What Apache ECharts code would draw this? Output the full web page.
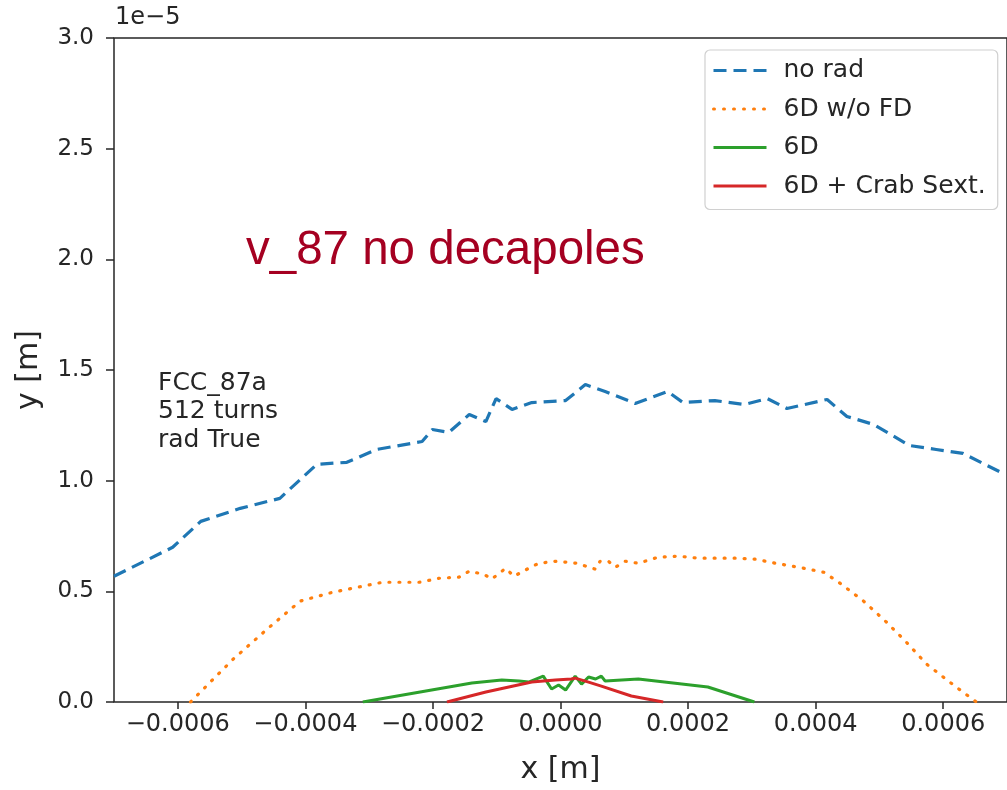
<!DOCTYPE html>
<html>
<head>
    <meta charset="utf-8">
    <title>FCC_87a DA</title>
    <script src="https://cdn.jsdelivr.net/npm/echarts@6/dist/echarts.min.js"></script>
    <style>
        html, body { margin: 0; padding: 0; background: #fff; }
        #main { width: 1007px; height: 790px; }
    </style>
</head>
<body>
<div id="main"></div>
<script type="text/javascript">
    // x in metres, y in units of 1e-5 m (as on the axis)
    var noRadX = [-0.00070, -0.000608, -0.000564, -0.000502, -0.000440, -0.000382, -0.000335, -0.000288, -0.000217, -0.000201,
        -0.000175, -0.000143, -0.000117, -0.000101, -0.000076, -0.000045, 0.000008, 0.000039, 0.000070, 0.000117,
        0.000168, 0.000192, 0.000242, 0.000288, 0.000324, 0.000355, 0.000418, 0.000449, 0.000491, 0.000547,
        0.000589, 0.000631, 0.000691];
    var noRadY = [0.568, 0.699, 0.816, 0.875, 0.920, 1.074, 1.083, 1.141, 1.177, 1.231,
        1.218, 1.299, 1.267, 1.371, 1.322, 1.353, 1.362, 1.434, 1.403, 1.349,
        1.403, 1.353, 1.362, 1.344, 1.371, 1.326, 1.367, 1.290, 1.254, 1.159,
        1.141, 1.123, 1.037];

    var noFdX = [-0.000580, -0.000549, -0.000513, -0.000460, -0.000408, -0.000357, -0.000279, -0.000221, -0.000190, -0.000159,
        -0.000143, -0.000120, -0.000108, -0.000086, -0.000073, -0.000050, -0.000034, -0.000006, 0.000025, 0.000055,
        0.000062, 0.000075, 0.000086, 0.000101, 0.000122, 0.000153, 0.000184, 0.000215, 0.000246, 0.000274,
        0.000306, 0.000337, 0.000382, 0.000413, 0.000438, 0.000475, 0.000511, 0.000542, 0.000574, 0.000620,
        0.000652];
    var noFdY = [0, 0.09, 0.194, 0.329, 0.456, 0.496, 0.541, 0.541, 0.559, 0.564,
        0.591, 0.577, 0.555, 0.604, 0.568, 0.604, 0.627, 0.636, 0.627, 0.600,
        0.636, 0.636, 0.609, 0.636, 0.627, 0.654, 0.659, 0.650, 0.650, 0.650,
        0.645, 0.627, 0.604, 0.586, 0.537, 0.456, 0.361, 0.271, 0.171, 0.068,
        0];

    var sixDX = [-0.000310, -0.000139, -0.000092, -0.000065, -0.000050, -0.000027, -0.000014, -0.000003, 0.000008, 0.000023,
        0.000033, 0.000044, 0.000055, 0.000064, 0.000070, 0.000122, 0.000231, 0.000304];
    var sixDY = [0, 0.086, 0.099, 0.095, 0.090, 0.117, 0.059, 0.077, 0.054, 0.117,
        0.081, 0.113, 0.104, 0.117, 0.095, 0.104, 0.068, 0];

    var crabX = [-0.000178, -0.000117, -0.000045, -0.000008, 0.000017, 0.000023, 0.000044, 0.000064, 0.000111, 0.000161];
    var crabY = [0, 0.045, 0.090, 0.099, 0.104, 0.108, 0.090, 0.072, 0.027, 0];

    var xTicks = [-0.0006, -0.0004, -0.0002, 0, 0.0002, 0.0004, 0.0006];
    var seriesNames = ['no rad', '6D w/o FD', '6D', '6D + Crab Sext.'];

    function pairs(xs, ys) {
        return xs.map(function (x, i) { return [x, ys[i]]; });
    }

    var font = 'DejaVu Sans';
    var ink = '#262626';

    var chart = echarts.init(document.getElementById('main'));
    chart.setOption({
        animation: false,
        backgroundColor: '#fff',
        grid: {
            left: 114, top: 38, width: 897, height: 665,
            show: true, borderColor: ink, borderWidth: 1.5
        },
        legend: {
            orient: 'vertical',
            left: 705, top: 50,
            padding: [8, 12, 11, 7],
            itemWidth: 53, itemHeight: 25, itemGap: 13.5,
            borderColor: '#d0d0d0', borderWidth: 1.2, borderRadius: 5,
            backgroundColor: 'rgba(255,255,255,0.85)',
            data: seriesNames,
            itemStyle: { opacity: 0 },
            lineStyle: { width: 3 },
            textStyle: { fontFamily: font, fontSize: 25, color: ink, lineHeight: 25, padding: [0, 0, 0, 12] }
        },
        xAxis: {
            type: 'value',
            min: -0.0007, max: 0.0007,
            name: 'x [m]', nameLocation: 'middle', nameGap: 53,
            nameTextStyle: { fontFamily: font, fontSize: 30, color: ink },
            splitLine: { show: false },
            axisLine: { show: false, onZero: false },
            axisTick: { show: true, length: 7, lineStyle: { color: ink, width: 1.5 }, customValues: xTicks },
            axisLabel: {
                fontFamily: font, fontSize: 24, color: ink, margin: 11,
                customValues: xTicks,
                formatter: function (v) { return (v < 0 ? '\u2212' : '') + Math.abs(v).toFixed(4); }
            }
        },
        yAxis: {
            type: 'value',
            min: 0, max: 3, interval: 0.5,
            name: 'y [m]', nameLocation: 'middle', nameGap: 70,
            nameTextStyle: { fontFamily: font, fontSize: 30, color: ink },
            splitLine: { show: false },
            axisLine: { show: false, onZero: false },
            axisTick: { show: true, length: 8, lineStyle: { color: ink, width: 1.5 } },
            axisLabel: {
                fontFamily: font, fontSize: 23, color: ink, margin: 20,
                formatter: function (v) { return v.toFixed(1); }
            }
        },
        series: [
            {
                name: 'no rad', type: 'line', data: pairs(noRadX, noRadY),
                symbol: 'none', color: '#1f77b4',
                lineStyle: { width: 3.2, type: [13, 7], color: '#1f77b4' }
            },
            {
                name: '6D w/o FD', type: 'line', data: pairs(noFdX, noFdY),
                symbol: 'none', color: '#ff7f0e',
                lineStyle: { width: 3.2, type: [1, 9], cap: 'round', color: '#ff7f0e' }
            },
            {
                name: '6D', type: 'line', data: pairs(sixDX, sixDY),
                symbol: 'none', color: '#2ca02c',
                lineStyle: { width: 3, color: '#2ca02c' }
            },
            {
                name: '6D + Crab Sext.', type: 'line', data: pairs(crabX, crabY),
                symbol: 'none', color: '#d62728',
                lineStyle: { width: 3, color: '#d62728' }
            }
        ],
        graphic: [
            {
                type: 'text', left: 115, top: 6,
                style: { text: '1e\u22125', font: '24px "DejaVu Sans"', fill: ink }
            },
            {
                type: 'text', left: 158, top: 369,
                style: { text: 'FCC_87a\n512 turns\nrad True', font: '25px "DejaVu Sans"', fill: ink, lineHeight: 28.5 }
            },
            {
                type: 'text', left: 246, top: 227,
                style: { text: 'v_87 no decapoles', font: '47.5px "Liberation Sans"', fill: '#a50021' }
            }
        ]
    });
</script>
</body>
</html>
